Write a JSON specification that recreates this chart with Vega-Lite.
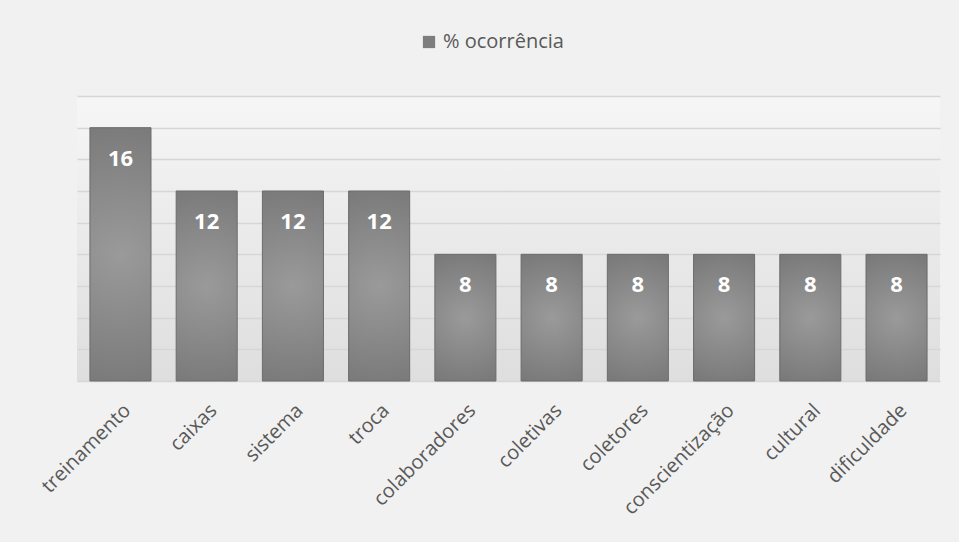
{
  "$schema": "https://vega.github.io/schema/vega-lite/v6.json",
  "width": 863,
  "height": 285,
  "autosize": {"type": "none"},
  "padding": {"left": 77, "top": 96, "right": 19, "bottom": 161},
  "background": "#f1f1f1",
  "config": {
    "font": "Open Sans",
    "view": {
      "stroke": null,
      "fill": {"gradient": "linear", "x1": 0, "y1": 0, "x2": 0, "y2": 1, "stops": [{"offset": 0, "color": "#f6f6f6"}, {"offset": 1, "color": "#dedede"}]}
    }
  },
  "data": {
    "values": [
      {"termo": "treinamento", "valor": 16},
      {"termo": "caixas", "valor": 12},
      {"termo": "sistema", "valor": 12},
      {"termo": "troca", "valor": 12},
      {"termo": "colaboradores", "valor": 8},
      {"termo": "coletivas", "valor": 8},
      {"termo": "coletores", "valor": 8},
      {"termo": "conscientização", "valor": 8},
      {"termo": "cultural", "valor": 8},
      {"termo": "dificuldade", "valor": 8}
    ]
  },
  "encoding": {
    "x": {
      "field": "termo",
      "type": "nominal",
      "sort": null,
      "scale": {"paddingInner": 0.292, "paddingOuter": 0.15},
      "axis": {"title": null, "labelAngle": -45, "labelFontSize": 20, "labelColor": "#595959", "labelPadding": 19, "ticks": false, "domain": false, "grid": false}
    },
    "y": {
      "field": "valor",
      "type": "quantitative",
      "scale": {"domain": [0, 18], "nice": false},
      "axis": {"title": null, "labels": false, "ticks": false, "domain": false, "grid": true, "gridColor": "#d6d6d6", "gridWidth": 1.5, "values": [0, 2, 4, 6, 8, 10, 12, 14, 16, 18]}
    }
  },
  "layer": [
    {
      "mark": {
        "type": "bar",
        "stroke": "#6c6c6c",
        "strokeWidth": 1,
        "color": {"gradient": "radial", "x1": 0.5, "y1": 0.5, "r1": 0, "x2": 0.5, "y2": 0.5, "r2": 0.65, "stops": [{"offset": 0, "color": "#9a9a9a"}, {"offset": 1, "color": "#727272"}]}
      }
    },
    {
      "mark": {"type": "bar", "opacity": 0},
      "encoding": {
        "color": {
          "datum": "% ocorrência",
          "scale": {"range": ["#7d7d7d"]},
          "legend": {"title": null, "orient": "none", "legendX": 342, "legendY": -64, "symbolType": "square", "symbolSize": 150, "symbolOpacity": 1, "symbolStrokeWidth": 0, "labelFontSize": 20, "labelColor": "#595959", "labelOffset": 4}
        }
      }
    },
    {
      "mark": {"type": "text", "color": "white", "fontWeight": "bold", "fontSize": 22, "baseline": "middle", "dy": 31},
      "encoding": {"text": {"field": "valor", "type": "quantitative"}}
    }
  ]
}
